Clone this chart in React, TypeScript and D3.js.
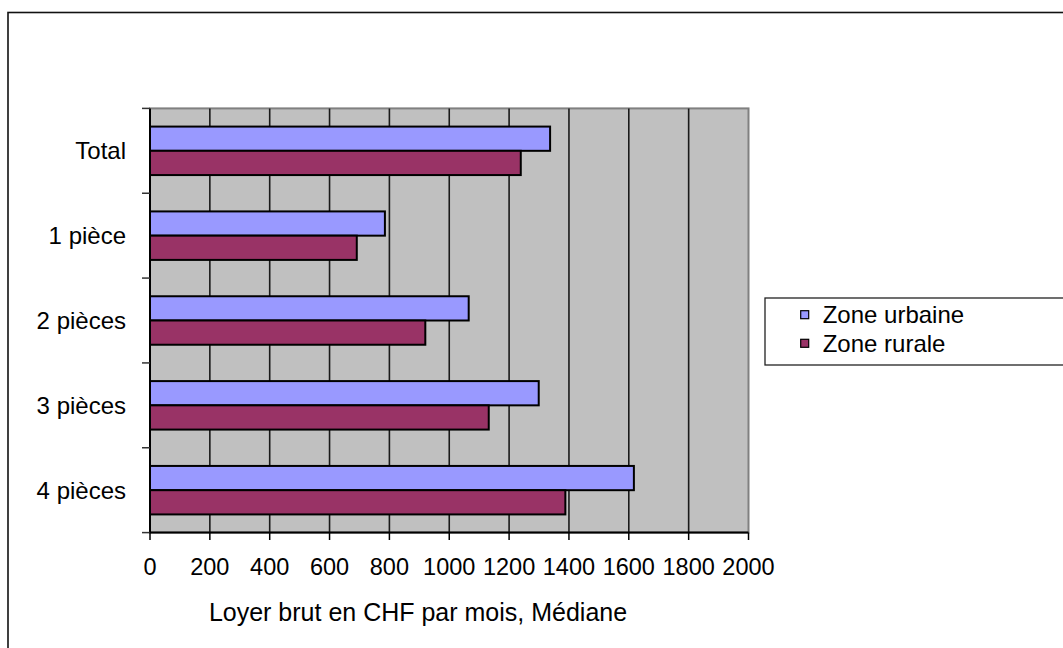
import React from "react";
import * as d3 from "d3";

// Median gross monthly rent (CHF) by dwelling size
const categories = ["Total", "1 pièce", "2 pièces", "3 pièces", "4 pièces"];
const seriesNames = ["Zone urbaine", "Zone rurale"];
const urbanValues = [1337, 785, 1065, 1299, 1617];
const ruralValues = [1239, 691, 920, 1132, 1388];
const xTicks = [0, 200, 400, 600, 800, 1000, 1200, 1400, 1600, 1800, 2000];
const axisTitle = "Loyer brut en CHF par mois, Médiane";

const seriesColors = ["#9999FF", "#993366"];

const W = 1063;
const H = 648;
const FONT = "'Liberation Sans', Arial, sans-serif";

export default function App() {
  const plot = { left: 150, right: 748.5, top: 108.4, bottom: 532.6 };

  const x = d3.scaleLinear().domain([0, 2000]).range([plot.left, plot.right]);
  const y = d3
    .scaleBand<string>()
    .domain(categories)
    .range([plot.top, plot.bottom])
    .padding(0);
  const inner = d3
    .scaleBand<string>()
    .domain(seriesNames)
    .range([0, y.bandwidth()])
    .paddingInner(0)
    .paddingOuter(0.75);

  const seriesValues = [urbanValues, ruralValues];

  return (
    <svg
      width={W}
      height={H}
      style={{ position: "absolute", left: 0, top: 0, background: "#fff" }}
      fontFamily={FONT}
    >
      {/* outer chart frame */}
      <rect x={8} y={12.5} width={1060} height={650} fill="#fff" stroke="#111" strokeWidth={1.6} />

      {/* plot area */}
      <rect
        x={plot.left}
        y={plot.top}
        width={plot.right - plot.left}
        height={plot.bottom - plot.top}
        fill="#C0C0C0"
        stroke="#808080"
        strokeWidth={2}
      />

      {/* vertical gridlines */}
      {xTicks.slice(1, -1).map((t) => (
        <line
          key={"g" + t}
          x1={x(t)}
          x2={x(t)}
          y1={plot.top}
          y2={plot.bottom}
          stroke="#1a1a1a"
          strokeWidth={1.6}
        />
      ))}

      {/* bars */}
      {categories.map((c, i) => (
        <g key={c} transform={`translate(0,${y(c)})`}>
          {seriesNames.map((s, k) => (
            <rect
              key={s}
              x={x(0)}
              y={inner(s)}
              width={x(seriesValues[k][i]) - x(0)}
              height={inner.bandwidth()}
              fill={seriesColors[k]}
              stroke="#000"
              strokeWidth={2}
            />
          ))}
        </g>
      ))}

      {/* category axis */}
      <line x1={plot.left} x2={plot.left} y1={plot.top} y2={plot.bottom} stroke="#000" strokeWidth={2} />
      {d3.range(categories.length + 1).map((k) => {
        const yy = plot.top + k * y.step();
        return <line key={"ct" + k} x1={142} x2={plot.left} y1={yy} y2={yy} stroke="#333" strokeWidth={1.5} />;
      })}
      {categories.map((c) => (
        <text
          key={"cl" + c}
          x={126}
          y={(y(c) ?? 0) + y.bandwidth() / 2}
          textAnchor="end"
          dominantBaseline="central"
          fontSize={24}
          fill="#000"
        >
          {c}
        </text>
      ))}

      {/* value axis */}
      <line x1={plot.left} x2={plot.right} y1={plot.bottom} y2={plot.bottom} stroke="#000" strokeWidth={2} />
      {xTicks.map((t) => (
        <g key={"xt" + t}>
          <line x1={x(t)} x2={x(t)} y1={plot.bottom} y2={540} stroke="#000" strokeWidth={1.5} />
          <text x={x(t)} y={567} textAnchor="middle" dominantBaseline="central" fontSize={23.5} fill="#000">
            {t}
          </text>
        </g>
      ))}
      <text x={418} y={612} textAnchor="middle" dominantBaseline="central" fontSize={25} fill="#000">
        {axisTitle}
      </text>

      {/* legend */}
      <rect x={765} y={298} width={300} height={67} fill="#fff" stroke="#222" strokeWidth={1.3} />
      {seriesNames.map((s, k) => {
        const cy = 314.7 + k * 28.6;
        return (
          <g key={"lg" + s}>
            <rect x={800.7} y={cy - 4} width={8} height={8} fill={seriesColors[k]} stroke="#000" strokeWidth={1.2} />
            <text x={822.7} y={cy} dominantBaseline="central" fontSize={24} fill="#000">
              {s}
            </text>
          </g>
        );
      })}
    </svg>
  );
}
